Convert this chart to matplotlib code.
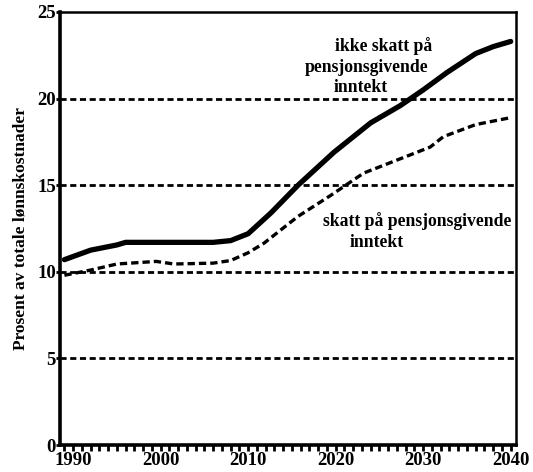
import matplotlib.pyplot as plt
from matplotlib.ticker import MultipleLocator

years_ikke = [1989, 1992, 1995, 1996, 2000, 2006, 2008, 2010, 2012.6, 2015.7,
              2019.8, 2024, 2027.4, 2030, 2032.7, 2036, 2038, 2040]
ikke_skatt = [10.7, 11.25, 11.55, 11.7, 11.7, 11.7, 11.8, 12.2, 13.4, 15.0,
              16.9, 18.6, 19.6, 20.5, 21.5, 22.6, 23.0, 23.3]

years_skatt = [1989, 1992, 1995, 1999.5, 2001.5, 2006, 2008, 2010, 2011.8,
               2015.7, 2019.4, 2023.2, 2027, 2030.8, 2032.3, 2036, 2040]
skatt = [9.8, 10.1, 10.45, 10.6, 10.45, 10.5, 10.65, 11.1, 11.65,
         13.2, 14.4, 15.7, 16.45, 17.2, 17.8, 18.5, 18.9]

y_ticks = [0, 5, 10, 15, 20, 25]
x_ticks = [1990, 2000, 2010, 2020, 2030, 2040]
y_label = "Prosent av totale lønnskostnader"

plt.rcParams['font.family'] = ['Liberation Serif', 'DejaVu Serif']
plt.rcParams['font.weight'] = 'bold'

W, H = 533, 472
fig = plt.figure(figsize=(W / 100, H / 100), dpi=100)
ax = fig.add_axes([0.1126, 0.0572, 0.968 - 0.1126, 0.9746 - 0.0572])

for v in [5, 10, 15, 20]:
    ax.axhline(v, color='black', lw=2.0, dashes=(2.2, 1.3), zorder=1)

ax.plot(years_ikke, ikke_skatt, color='black', lw=3.8, solid_capstyle='round', zorder=3)
ax.plot(years_skatt, skatt, color='black', lw=2.4, dashes=(2.2, 1.2), zorder=3)

ax.set_xlim(1988.5, 2040.6)
ax.set_ylim(0, 25)
ax.set_xticks(x_ticks)
ax.xaxis.set_minor_locator(MultipleLocator(1))
ax.set_yticks(y_ticks)
ax.tick_params(axis='x', which='both', direction='out', length=4, width=2, pad=1,
               labelsize=13.5)
ax.tick_params(axis='y', direction='out', length=3, width=2, pad=0, labelsize=13.5)
for lab in ax.get_xticklabels() + ax.get_yticklabels():
    lab.set_fontweight('bold')

for side in ['left', 'bottom']:
    ax.spines[side].set_linewidth(2.6)
for side in ['top', 'right']:
    ax.spines[side].set_linewidth(1.8)

ax.set_ylabel(y_label, fontsize=12.5, fontweight='bold', labelpad=6)


def label(px, py, s):
    fig.text(px / W, 1 - py / H, s, ha='center', va='center',
             fontsize=12.7, fontweight='bold')


label(384, 46, "ikke skatt på")
label(367, 68, "pensjonsgivende")
label(361, 88, "inntekt")
label(417, 221, "skatt på pensjonsgivende")
label(377, 243, "inntekt")

fig.savefig("out.png", dpi=100)
